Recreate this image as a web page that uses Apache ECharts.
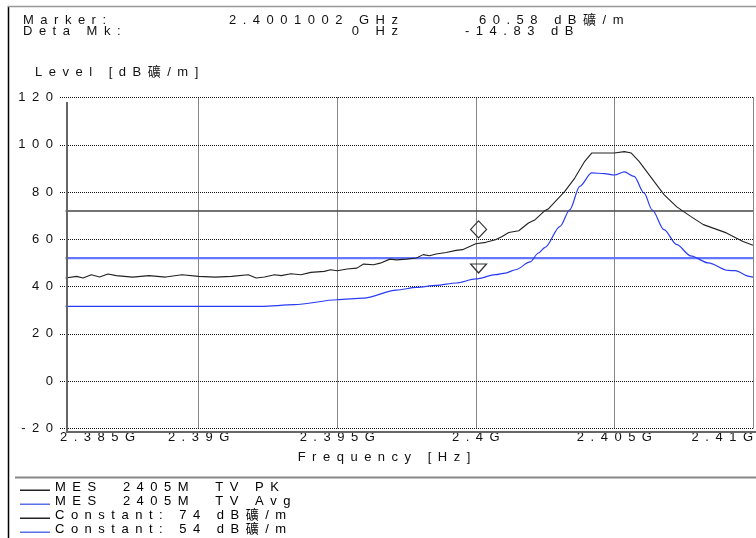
<!DOCTYPE html>
<html>
<head>
<meta charset="utf-8">
<script src="https://cdn.jsdelivr.net/npm/echarts@6/dist/echarts.min.js"></script>
<style>
html, body { margin: 0; padding: 0; background: #fff; }
#chart { width: 756px; height: 538px; }
</style>
</head>
<body>
<div id="chart"></div>
<script>
// frequencies in MHz, levels in dB
var freqPk = [2385.2, 2385.6, 2385.83, 2386.13, 2386.43, 2386.73, 2387.03, 2387.62, 2388.21, 2388.81,
  2389.4, 2390.0, 2390.6, 2391.19, 2391.79, 2392.08, 2392.38, 2392.74, 2392.98, 2393.33,
  2393.69, 2394.05, 2394.53, 2394.76, 2395.0, 2395.36, 2395.71, 2395.95, 2396.31, 2396.55,
  2396.9, 2397.14, 2397.5, 2397.86, 2398.1, 2398.33, 2398.57, 2398.93, 2399.29, 2399.52,
  2400.0, 2400.36, 2400.71, 2400.95, 2401.19, 2401.55, 2401.9, 2402.14, 2402.5, 2402.61,
  2403.21, 2403.57, 2403.93, 2404.18, 2404.64, 2405.0, 2405.36, 2405.61, 2405.89, 2406.43,
  2406.79, 2407.25, 2407.75, 2408.21, 2409.04, 2409.64, 2409.86, 2410];
var levelPk = [43.6, 44.3, 43.6, 45.0, 44.0, 45.3, 44.6, 44.0, 44.6, 44.0,
  45.0, 44.3, 44.0, 44.3, 45.0, 43.6, 44.0, 45.0, 44.6, 45.4,
  45.0, 46.0, 46.4, 47.1, 46.7, 47.4, 47.8, 49.5, 49.2, 49.9,
  51.6, 51.3, 51.6, 52.1, 53.5, 53.0, 53.8, 54.4, 55.3, 55.6,
  58.1, 58.7, 59.8, 61.2, 62.9, 63.6, 66.9, 68.3, 72.2, 72.8,
  80.3, 85.9, 93.0, 96.5, 96.5, 96.5, 97.1, 96.5, 93.0, 84.5,
  78.9, 73.7, 69.7, 66.2, 62.7, 59.1, 58.1, 57.5];

var freqAvg = [2385.2, 2392.25, 2393.45, 2395.0, 2395.95, 2397.14, 2397.86, 2398.57, 2399.29, 2400.0,
  2400.71, 2401.07, 2401.43, 2401.96, 2402.26, 2402.5, 2403.04, 2403.39, 2403.75, 2404.18,
  2404.64, 2405.0, 2405.36, 2405.71, 2406.07, 2406.36, 2406.79, 2407.25, 2407.75, 2408.39,
  2409.11, 2409.36, 2409.86, 2410];
var levelAvg = [31.6, 31.6, 32.3, 34.4, 35.1, 38.5, 39.6, 40.5, 41.5, 43.2,
  45.0, 45.7, 47.1, 50.4, 54.2, 56.6, 65.5, 72.5, 82.4, 88.1,
  87.8, 87.2, 88.5, 86.6, 79.6, 72.5, 64.1, 57.7, 53.0, 50.0,
  46.8, 46.7, 44.3, 44.0];

var limitPk = 72;
var limitAvg = 52;
var limitFreq = [2385.2, 2410];

var markerFreq = 2400.1002;
var markerLevel = 60.58;
var deltaLevel = -14.83;

var xTickLabels = ['2.385G', '2.39G', '2.395G', '2.4G', '2.405G', '2.41G'];
var seriesNames = ['MES  2405M  TV PK', 'MES  2405M  TV Avg', 'Constant: 74 dB礦/m', 'Constant: 54 dB礦/m'];

var FONT = "'Liberation Sans','Noto Sans CJK SC',sans-serif";
var GAP = '\u2002';
function sp(s) { return s.split('').join(GAP); }
function pairs(xs, ys) { return xs.map(function (x, i) { return [x, ys[i]]; }); }

var names = seriesNames.map(sp);

function txt(x, y, s, align) {
  return {
    type: 'text', x: x, y: y, silent: true,
    style: { text: sp(s), font: '13px ' + FONT, fill: '#111', align: align || 'left', verticalAlign: 'middle' }
  };
}
function ln(x1, y1, x2, y2, color, w) {
  return { type: 'line', silent: true, z: 50, shape: { x1: x1, y1: y1, x2: x2, y2: y2 }, style: { stroke: color, lineWidth: w } };
}

var chart = echarts.init(document.getElementById('chart'));
var option = {
  animation: false,
  backgroundColor: '#fff',
  grid: { left: 60, right: -4, top: 97.5, bottom: 109.7 },
  xAxis: {
    type: 'value', min: 2385, max: 2410, interval: 5,
    axisLine: { show: false }, axisTick: { show: false },
    splitLine: { show: true, showMinLine: false, lineStyle: { color: '#111', type: [1, 1], width: 1 } },
    axisLabel: {
      margin: 3, fontSize: 13, color: '#111', fontFamily: FONT,
      alignMinLabel: 'left', alignMaxLabel: 'right',
      formatter: function (v) { return sp(xTickLabels[Math.round((v - 2385) / 5)] || ''); }
    }
  },
  yAxis: {
    type: 'value', min: -20, max: 120, interval: 20,
    axisLine: { show: false }, axisTick: { show: false },
    splitLine: { lineStyle: { color: '#111', type: [1, 1], width: 1 } },
    axisLabel: {
      margin: 7, fontSize: 13, color: '#111', fontFamily: FONT,
      formatter: function (v) { return sp(String(v)); }
    }
  },
  legend: {
    orient: 'vertical', left: 20, top: 480, padding: 0,
    itemWidth: 30, itemHeight: 14, itemGap: 0,
    icon: 'path://M0,0L0,0M0,9.5L30,9.5L30,11L0,11ZM30,14L30,14',
    itemStyle: { borderWidth: 0 },
    selectedMode: false,
    textStyle: { fontSize: 13, color: '#000', fontFamily: FONT },
    data: names
  },
  series: [
    {
      name: names[0], type: 'line', data: pairs(freqPk, levelPk), symbol: 'none', z: 4,
      color: '#222', itemStyle: { color: '#222' },
      lineStyle: { color: '#222', width: 1.1 },
      markPoint: {
        silent: true, symbol: 'diamond', symbolSize: [16, 17], symbolOffset: [0, '-50%'],
        label: { show: false },
        itemStyle: { color: 'rgba(255,255,255,0)', borderColor: '#333', borderWidth: 1.2 },
        data: [{ coord: [markerFreq, markerLevel] }]
      }
    },
    {
      name: names[1], type: 'line', data: pairs(freqAvg, levelAvg), symbol: 'none', z: 4,
      smooth: 0.3, smoothMonotone: 'x',
      color: '#2a3cf2', itemStyle: { color: '#5a6fe8' },
      lineStyle: { color: '#2a3cf2', width: 1.2 },
      markPoint: {
        silent: true, symbol: 'triangle', symbolRotate: 180, symbolSize: [16, 9], symbolOffset: [0, '-50%'],
        label: { show: false },
        itemStyle: { color: 'rgba(255,255,255,0)', borderColor: '#333', borderWidth: 1.2 },
        data: [{ coord: [markerFreq, markerLevel + deltaLevel] }]
      }
    },
    {
      name: names[2], type: 'line', data: pairs(limitFreq, [limitPk, limitPk]), symbol: 'none', z: 3,
      color: '#333', itemStyle: { color: '#222' },
      lineStyle: { color: '#444', width: 1.5 }
    },
    {
      name: names[3], type: 'line', data: pairs(limitFreq, [limitAvg, limitAvg]), symbol: 'none', z: 3,
      color: '#6677ff', itemStyle: { color: '#5a6fe8' },
      lineStyle: { color: '#6677ff', width: 2.2 }
    }
  ],
  graphic: [
    ln(8.5, 6, 8.5, 538, '#000', 1.5),
    ln(8, 6.5, 756, 6.5, '#999', 1.5),
    ln(15, 477.5, 756, 477.5, '#888', 2),
    ln(67, 102, 67, 432, '#666', 2),
    ln(66, 432, 756, 432, '#666', 2),
    txt(23, 20, 'Marker:'),
    txt(23, 31, 'Deta Mk:'),
    txt(398, 20, '2.4001002 GHz', 'right'),
    txt(398, 31, '0 Hz', 'right'),
    txt(479, 20, '60.58 dB礦/m'),
    txt(465, 31, '-14.83 dB'),
    txt(35, 72, 'Level [dB礦/m]'),
    txt(384, 457, 'Frequency [Hz]', 'center')
  ]
};
chart.setOption(option);
</script>
</body>
</html>
